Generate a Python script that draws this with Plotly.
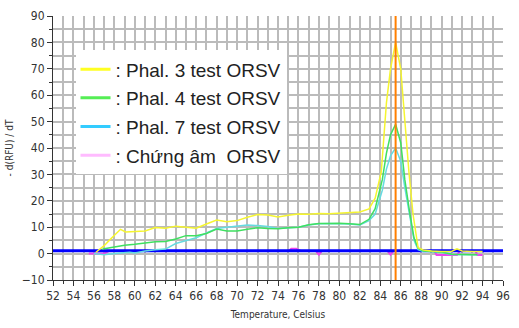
import plotly.graph_objects as go

# ---- data ----
x_p3 = [56.2, 57, 57.5, 58, 58.6, 59.1, 60, 61, 62, 63, 64, 65, 66, 67, 68, 69, 70, 71, 72, 73, 74, 75, 76, 77, 78, 79, 80, 81, 82, 82.9, 83.5, 84.1, 84.6, 85, 85.5, 86, 86.4, 86.8, 87.2, 87.7, 88.2, 89, 90, 91, 91.5, 92, 93, 94]
y_p3 = [0.5, 3, 5, 7, 9.2, 8.2, 8.5, 8.6, 9.9, 9.6, 10.4, 10.1, 9.6, 11.2, 12.7, 12.1, 12.5, 13.8, 14.8, 14.6, 13.9, 14.5, 15, 14.9, 15.2, 15.1, 15.4, 15.6, 15.8, 16.9, 21, 31, 57, 70, 80, 70, 50, 31, 15, 2.2, 1.4, 1.0, 0.8, 0.9, 1.8, 1.0, 0.8, 0.8]

x_p4 = [56.8, 57, 58, 59, 60, 61, 62, 63, 64, 65, 66, 67, 68, 69, 70, 71, 72, 73, 74, 75, 76, 77, 78, 79, 80, 81, 82, 82.9, 83.5, 84.2, 84.6, 85, 85.5, 86, 86.4, 86.9, 87.3, 87.7, 88.2, 89, 90, 91, 92, 93, 93.5]
y_p4 = [1.6, 1.8, 2.5, 3.2, 3.5, 4.0, 4.5, 4.6, 5.5, 6.8, 6.8, 7.6, 9.3, 8.6, 8.6, 9.2, 9.8, 9.5, 9.4, 9.8, 10.0, 10.9, 11.4, 11.4, 11.5, 11.3, 11.0, 13.0, 17, 28, 38, 45, 49, 42, 28, 15, 6, 2, 1.0, 0.8, 0.6, -0.2, -0.4, -0.4, -0.4]

x_p7 = [56, 57, 58, 59, 59.5, 60, 61, 62, 63, 64, 65, 66, 67, 68, 69, 70, 71, 72, 73, 74, 75, 76, 77, 78, 79, 80, 81, 82, 82.9, 83.5, 84.2, 84.6, 85, 85.5, 86, 86.4, 86.9, 87.3, 87.7, 88.2, 89, 90, 91, 92, 93, 93.5]
y_p7 = [0, -0.4, 0, 0.4, 0.5, 0.2, 1.0, 1.5, 1.7, 3.8, 5.0, 6.0, 7.8, 9.5, 10.0, 10.5, 10.8, 10.6, 10.3, 9.5, 9.8, 10.0, 10.8, 11.3, 11.4, 11.4, 11.2, 10.8, 12.5, 15, 24, 32, 37, 40, 35, 25, 13, 5, 1.5, 0.8, 0.8, 0.4, -0.3, -0.3, -0.4, -0.4]

x_neg = [55.5, 56, 56.5, 57, 57.5, 60, 75, 75.3, 75.8, 76.2, 77.7, 78, 78.3, 84.7, 85, 85.3, 89.3, 89.5, 91.5, 91.8, 93.3, 93.5, 94]
y_neg = [0, 0, 0, 0, 1, 1, 1, 1.8, 1.8, 1, 1, -0.4, 1, 1, -0.4, 1, 1, -0.5, -0.5, 1, 1, -0.5, -0.5]

threshold_x = [52, 96]
threshold_y = [1.1, 1.1]
peak_x = [85.5, 85.5]
peak_y = [-10, 90]

series_names = [": Phal. 3 test ORSV", ": Phal. 4 test ORSV", ": Phal. 7 test ORSV", ": Chứng âm  ORSV"]

fig = go.Figure()
fig.add_trace(go.Scatter(x=x_neg, y=y_neg, mode="lines", name=series_names[3],
                         line=dict(color="#ee44ee", width=2), showlegend=False))
fig.add_trace(go.Scatter(x=threshold_x, y=threshold_y, mode="lines", showlegend=False,
                         line=dict(color="#0000ff", width=3)))
fig.add_trace(go.Scatter(x=x_p7, y=y_p7, mode="lines", name=series_names[2],
                         line=dict(color="#66dbe0", width=1.5), showlegend=False))
fig.add_trace(go.Scatter(x=x_p4, y=y_p4, mode="lines", name=series_names[1],
                         line=dict(color="#3fe060", width=1.5), showlegend=False))
fig.add_trace(go.Scatter(x=x_p3, y=y_p3, mode="lines", name=series_names[0],
                         line=dict(color="#f5f530", width=1.5), showlegend=False))
fig.add_trace(go.Scatter(x=peak_x, y=peak_y, mode="lines", showlegend=False,
                         line=dict(color="#ff7f00", width=2)))

# legend samples (colors as drawn in the reference legend)
leg_colors = ["#ffff22", "#55ee55", "#33ccff", "#ffbbff"]
for i, (nm, c) in enumerate(zip(series_names, leg_colors)):
    fig.add_trace(go.Scatter(x=[None], y=[None], mode="lines", name=nm,
                             line=dict(color=c, width=3), legendgroup="g%d" % i,
                             legendrank=i + 1))

tickfont = dict(family="Liberation Sans Narrow, DejaVu Sans Condensed, Arial", size=12, color="#333")
fig.update_layout(
    width=519, height=328,
    margin=dict(l=49, r=9, t=13, b=48),
    paper_bgcolor="white", plot_bgcolor="white",
    showlegend=True,
    legend=dict(x=0.05, y=0.87, xanchor="left", yanchor="top",
                bgcolor="white", borderwidth=0,
                font=dict(family="Liberation Sans, Arial", size=19, color="#222"),
                tracegroupgap=1, itemwidth=30),
    xaxis=dict(range=[52, 96], dtick=2, tick0=52, showgrid=True, gridcolor="#bbbbbb", gridwidth=1.7,
               minor=dict(dtick=1, showgrid=True, gridcolor="#bbbbbb", gridwidth=1.7, ticks="outside", ticklen=3, tickcolor="#333"),
               ticks="outside", ticklen=5, tickcolor="#333",
               showline=True, linecolor="#333", linewidth=1, zeroline=False,
               tickfont=tickfont,
               title=dict(text="Temperature, Celsius", font=dict(family="Liberation Sans Narrow, DejaVu Sans Condensed, Arial", size=10, color="#333"), standoff=8)),
    yaxis=dict(range=[-10, 90], dtick=10, tick0=0, showgrid=True, gridcolor="#bbbbbb", gridwidth=1.7,
               minor=dict(dtick=5, showgrid=True, gridcolor="#bbbbbb", gridwidth=1.7, ticks="outside", ticklen=3, tickcolor="#333"),
               ticks="outside", ticklen=5, tickcolor="#333",
               showline=True, linecolor="#333", linewidth=1, zeroline=False,
               tickfont=tickfont,
               title=dict(text="- d(RFU) / dT", font=dict(family="Liberation Sans Narrow, DejaVu Sans Condensed, Arial", size=10, color="#333"), standoff=6)),
)
fig.write_html("out.html")
